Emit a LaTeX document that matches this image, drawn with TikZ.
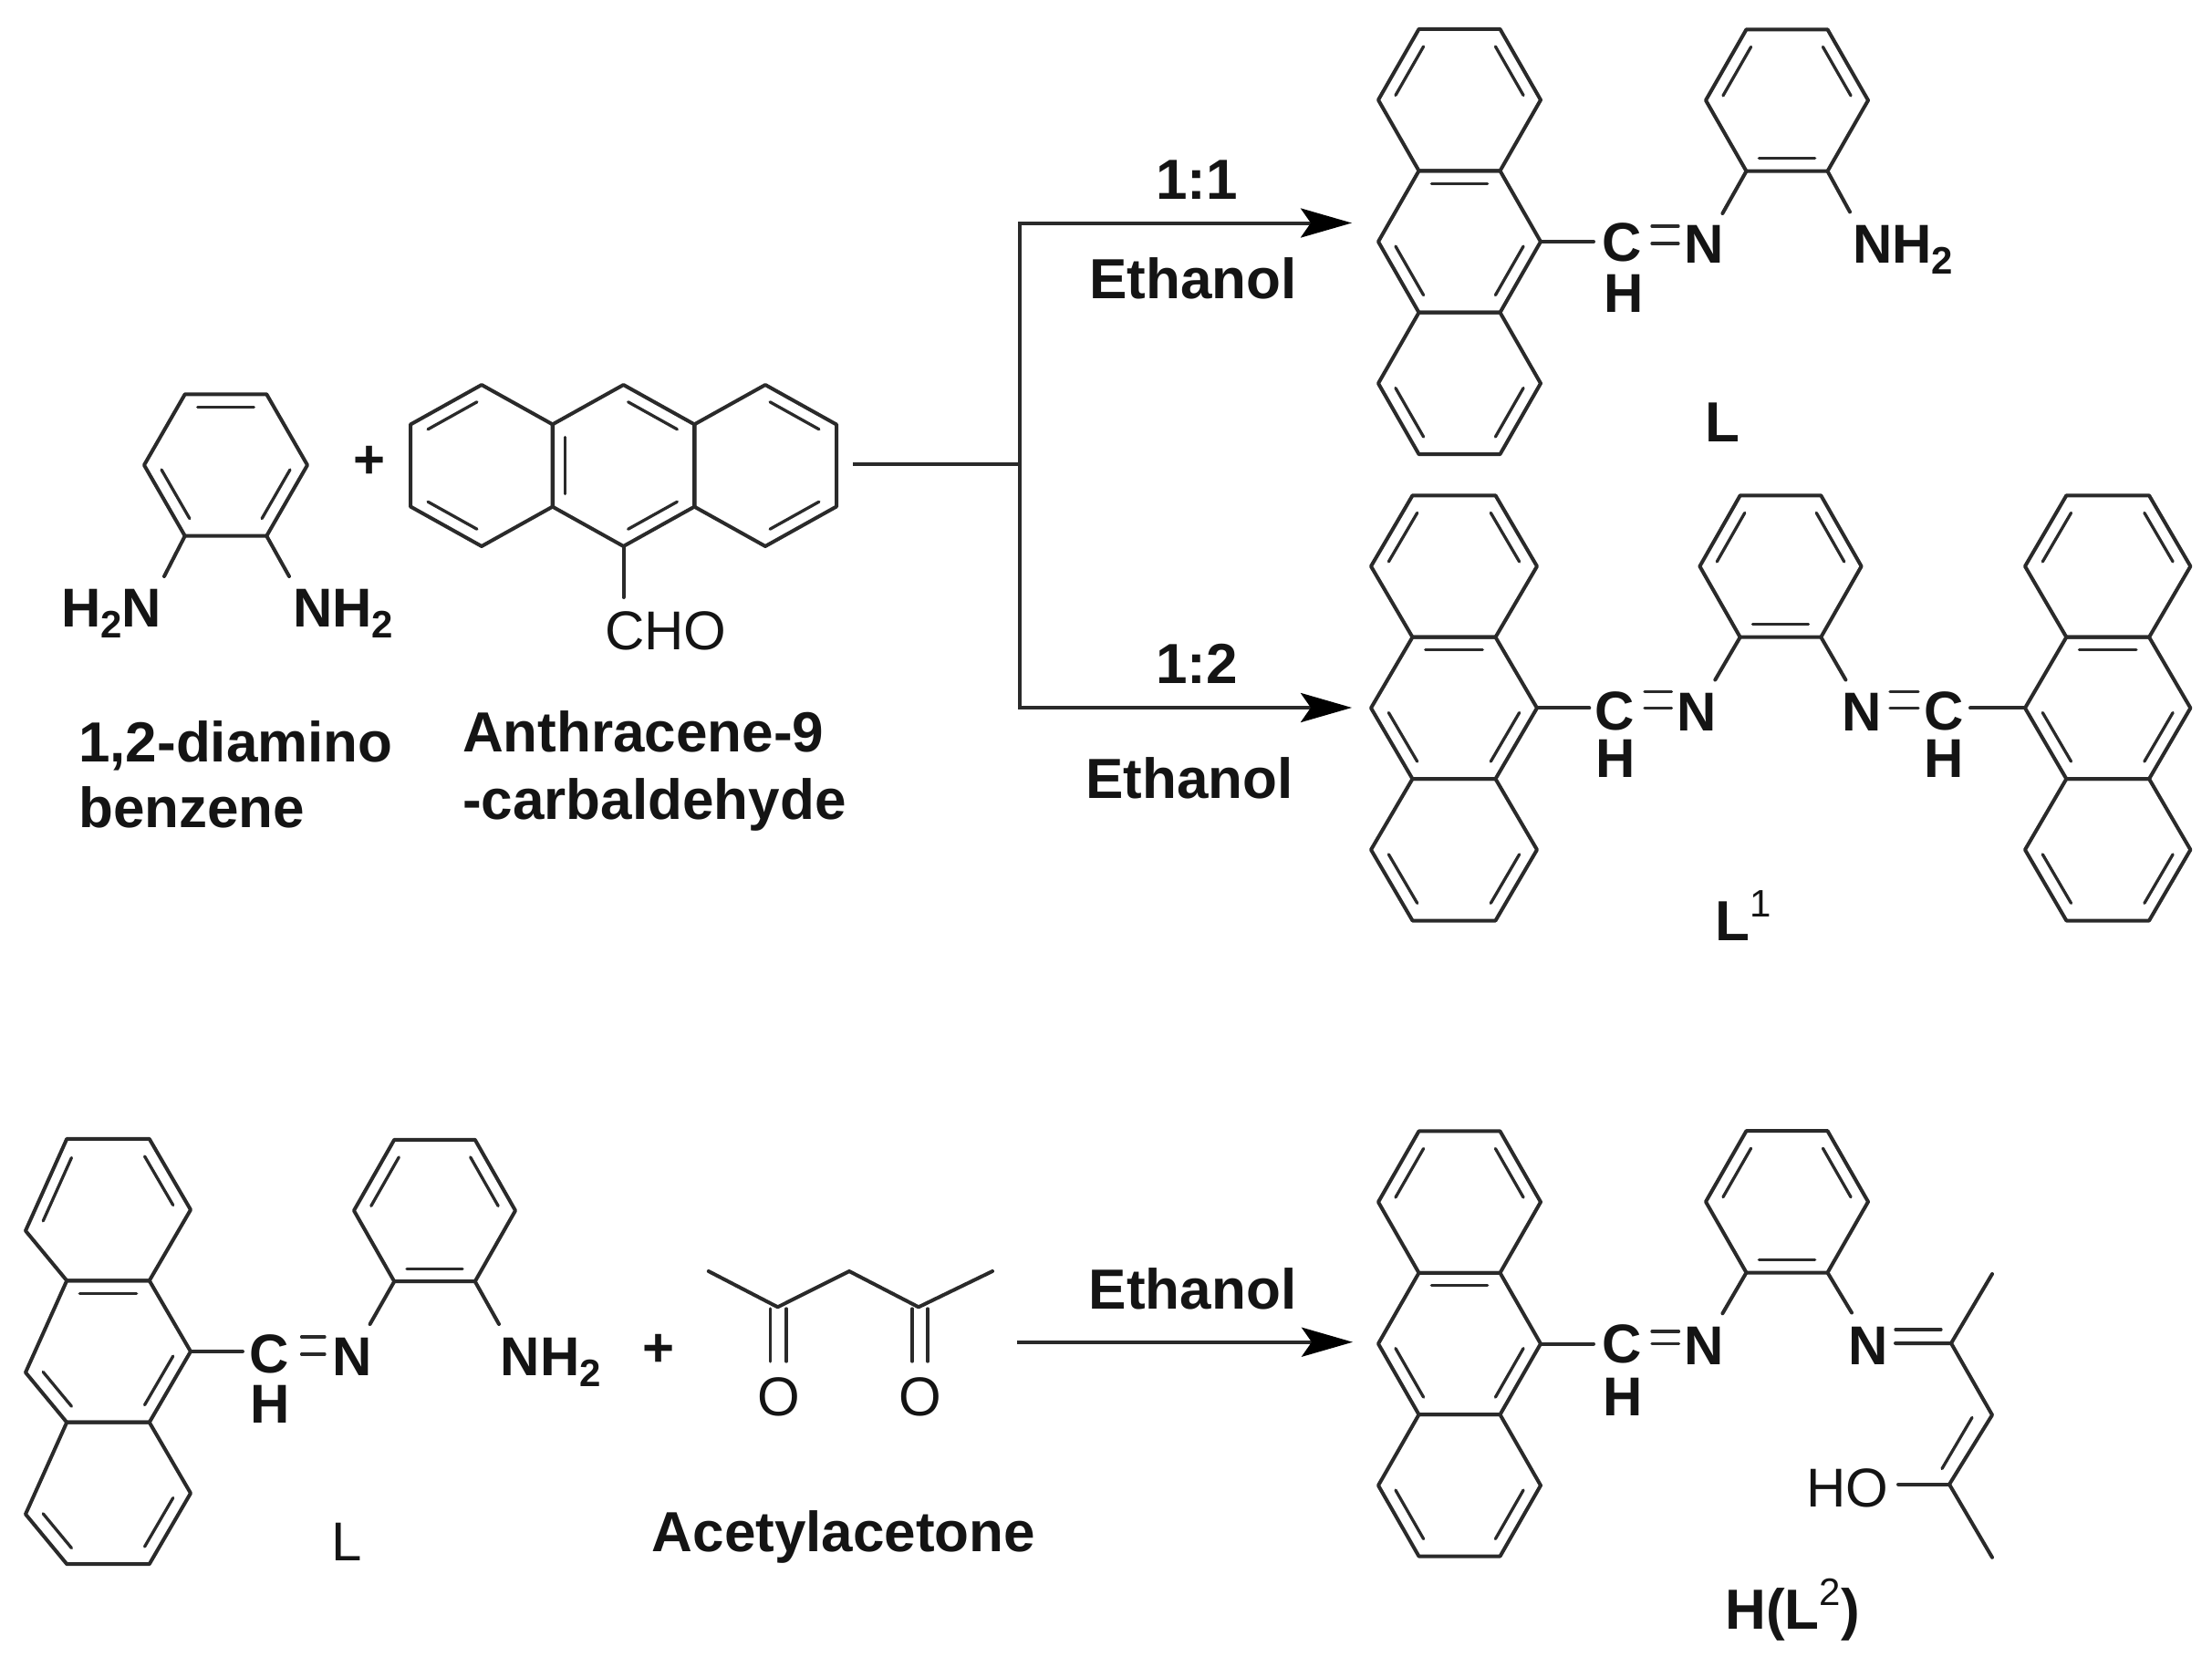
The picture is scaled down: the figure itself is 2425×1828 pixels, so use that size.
\documentclass[tikz,border=0pt]{standalone}
\usepackage{fontspec}
\setmainfont{Liberation Sans}
\usetikzlibrary{calc,arrows.meta}
\definecolor{ink}{HTML}{2A2A2A}
\definecolor{txt}{HTML}{141414}
\tikzset{
  bond/.style={draw=ink,line width=4pt,line join=round,line cap=round},
  innerbond/.style={draw=ink,line width=3.3pt,line cap=round},
  flow/.style={draw=ink,line width=4pt,line join=miter},
  flowarrow/.style={flow,-{Stealth[length=56pt,width=32pt,inset=11pt,color=black,fill=black]}},
  atom/.style={inner sep=0pt,anchor=base,text=txt,font=\fontsize{60}{72}\selectfont\bfseries},
  atomw/.style={atom,anchor=base west},
  plain/.style={inner sep=0pt,anchor=base,text=txt,font=\fontsize{60}{72}\selectfont},
  caption/.style={inner sep=0pt,anchor=base,text=txt,font=\fontsize{62}{72}\selectfont\bfseries},
  captionw/.style={caption,anchor=base west},
}
\newcommand{\subtwo}{\raisebox{-.2em}{\fontsize{42}{42}\selectfont 2}}
\newcommand{\suptxt}[1]{\raisebox{.42em}{\fontsize{42}{42}\selectfont\mdseries #1}}
% flat-topped hexagon: [left vertex dy]{name}{cx}{cy}{R}{inner bonds}
\newcommand{\flatring}[6][0]{%
  \coordinate (#2-c) at (#3,#4);
  \coordinate (#2-1) at ({#3-0.5*#5},{#4-77.7});
  \coordinate (#2-2) at ({#3+0.5*#5},{#4-77.7});
  \coordinate (#2-3) at ({#3+#5},{#4});
  \coordinate (#2-4) at ({#3+0.5*#5},{#4+77.7});
  \coordinate (#2-5) at ({#3-0.5*#5},{#4+77.7});
  \coordinate (#2-6) at ({#3-#5},{#4+#1});
  \draw[bond] (#2-1)--(#2-2)--(#2-3)--(#2-4)--(#2-5)--(#2-6)--cycle;
  \foreach \a/\b in {#6}{
    \draw[innerbond] ($(#2-c)!.82!($(#2-\a)!.08!(#2-\b)$)$) -- ($(#2-c)!.82!($(#2-\b)!.08!(#2-\a)$)$);
  }
}
% pointy-topped hexagon: {name}{cx}{cy}{inner bonds}
\newcommand{\pointring}[4]{%
  \coordinate (#1-c) at (#2,#3);
  \coordinate (#1-1) at ({#2},{#3-88.5});
  \coordinate (#1-2) at ({#2+78},{#3-45});
  \coordinate (#1-3) at ({#2+78},{#3+45});
  \coordinate (#1-4) at ({#2},{#3+88.5});
  \coordinate (#1-5) at ({#2-78},{#3+45});
  \coordinate (#1-6) at ({#2-78},{#3-45});
  \draw[bond] (#1-1)--(#1-2)--(#1-3)--(#1-4)--(#1-5)--(#1-6)--cycle;
  \foreach \a/\b in {#4}{
    \draw[innerbond] ($(#1-c)!.82!($(#1-\a)!.08!(#1-\b)$)$) -- ($(#1-c)!.82!($(#1-\b)!.08!(#1-\a)$)$);
  }
}
% vertical anthracene: [left dy]{name}{cx}{cy of middle ring}{R}
\newcommand{\anthracene}[5][0]{%
  \flatring[#1]{#2t}{#3}{#4-155.4}{#5}{6/1,2/3}
  \flatring[#1]{#2m}{#3}{#4}{#5}{1/2,5/6,3/4}
  \flatring[#1]{#2b}{#3}{#4+155.4}{#5}{5/6,3/4}
}
\begin{document}
\begin{tikzpicture}[x=1pt,y=-1pt]
\useasboundingbox[fill=white] (0,0) rectangle (2425,1828);

%%% reactants, top left
\flatring{da}{247.5}{510}{89.5}{1/2,5/6,3/4}
\coordinate (da-a) at (180,632);
\coordinate (da-b) at (317,632);
\draw[bond] (da-5) -- (da-a);
\draw[bond] (da-4) -- (da-b);
\node[atomw] (h2n) at (67,687) {H\subtwo N};
\node[atomw] (nh2a) at (321,687) {NH\subtwo};
\node[atom] (plus1) at (405,524) {+};
\pointring{ra}{528}{510.5}{6/1,5/4}
\pointring{rb}{683.5}{510.5}{1/2,5/6,3/4}
\pointring{rc}{839}{510.5}{1/2,3/4}
\coordinate (cho-e) at (683.5,655);
\draw[bond] (rb-4) -- (cho-e);
\node[plain] (cho) at (730,712) {CHO};
\node[captionw] (dia1) at (86,835) {1,2-diamino};
\node[captionw] (dia2) at (86,907) {benzene};
\node[captionw] (ant1) at (507,824.6) {Anthracene-9};
\node[captionw] (ant2) at (507,898) {-carbaldehyde};

%%% branching arrows
\coordinate (fork-s) at (935,509);
\coordinate (fork-m) at (1118,509);
\coordinate (fork-t) at (1118,244.5);
\coordinate (fork-b) at (1118,776);
\coordinate (tip-t) at (1482,244.5);
\coordinate (tip-b) at (1482,776);
\draw[flow] (fork-s) -- (fork-m);
\draw[flowarrow] (fork-m) -- (fork-t) -- (tip-t);
\draw[flowarrow] (fork-m) -- (fork-b) -- (tip-b);
\node[caption] (r11) at (1312,218) {1:1};
\node[caption] (eth1) at (1308,327) {Ethanol};
\node[caption] (r12) at (1312,749) {1:2};
\node[caption] (eth2) at (1304,875) {Ethanol};

%%% product L
\anthracene{la}{1600}{265}{89}
\flatring{lr}{1959}{110}{89}{6/1,2/3,4/5}
\coordinate (l-a) at (1888.4,234);
\coordinate (l-b) at (2028,232.4);
\coordinate (l-c) at (1747,265);
\draw[bond] (lr-5) -- (l-a);
\draw[bond] (lr-4) -- (l-b);
\draw[bond] (lam-3) -- (l-c);
\node[atom] (lC) at (1778,286) {C};
\node[atom] (lN) at (1868,288) {N};
\node[atom] (lH) at (1780,342.6) {H};
\coordinate (ld1) at (1811,248); \coordinate (ld2) at (1840,248);
\coordinate (ld3) at (1811,267); \coordinate (ld4) at (1840,267);
\draw[innerbond] (ld1) -- (ld2);
\draw[innerbond] (ld3) -- (ld4);
\node[atomw] (lNH2) at (2031,288) {NH\subtwo};
\node[caption] (lL) at (1888,484) {L};

%%% product L1
\anthracene{ma}{1594}{776.4}{91}
\flatring{mr}{1952}{621}{88.6}{6/1,2/3,4/5}
\anthracene{mc}{2310.7}{776.4}{90.7}
\coordinate (m-a) at (1880.3,745.5);
\coordinate (m-b) at (2023.4,745.5);
\coordinate (m-c) at (1742.3,776.4);
\coordinate (m-d) at (2160,776.4);
\draw[bond] (mr-5) -- (m-a);
\draw[bond] (mr-4) -- (m-b);
\draw[bond] (mam-3) -- (m-c);
\draw[bond] (mcm-6) -- (m-d);
\node[atom] (mC1) at (1770,800.6) {C};
\node[atom] (mN1) at (1860.4,801.7) {N};
\node[atom] (mH1) at (1771.5,852.3) {H};
\node[atom] (mN2) at (2040.8,801.7) {N};
\node[atom] (mC2) at (2131,800.6) {C};
\node[atom] (mH2) at (2131,852.3) {H};
\coordinate (md1) at (1803,758.3); \coordinate (md2) at (1832.5,758.3);
\coordinate (md3) at (1803,776.5); \coordinate (md4) at (1832.5,776.5);
\coordinate (md5) at (2072,758.3); \coordinate (md6) at (2103,758.3);
\coordinate (md7) at (2072,776.5); \coordinate (md8) at (2103,776.5);
\draw[innerbond] (md1) -- (md2);
\draw[innerbond] (md3) -- (md4);
\draw[innerbond] (md5) -- (md6);
\draw[innerbond] (md7) -- (md8);
\node[caption] (mL) at (1911,1031.4) {L\suptxt{1}};

%%% reactant L, bottom left
\anthracene[23]{ba}{118.5}{1482}{90.5}
\flatring{br}{476.5}{1327.5}{88.5}{6/1,2/3,4/5}
\coordinate (b-a) at (405.6,1452);
\coordinate (b-b) at (547,1452);
\coordinate (b-c) at (266,1482);
\draw[bond] (br-5) -- (b-a);
\draw[bond] (br-4) -- (b-b);
\draw[bond] (bam-3) -- (b-c);
\node[atom] (bC) at (295,1505) {C};
\node[atom] (bN) at (386,1508.6) {N};
\node[atom] (bH) at (296,1560) {H};
\coordinate (bd1) at (330.6,1466); \coordinate (bd2) at (356,1466);
\coordinate (bd3) at (330.6,1485); \coordinate (bd4) at (356,1485);
\draw[innerbond] (bd1) -- (bd2);
\draw[innerbond] (bd3) -- (bd4);
\node[atomw] (bNH2) at (548.5,1508.6) {NH\subtwo};
\node[plain] (bL) at (380,1711) {L};
\node[atom] (plus2) at (722,1498) {+};

%%% acetylacetone
\coordinate (ac1) at (776.8,1394);
\coordinate (ac2) at (852.6,1433.3);
\coordinate (ac3) at (931,1394);
\coordinate (ac4) at (1007,1433.3);
\coordinate (ac5) at (1088,1394);
\draw[bond] (ac1) -- (ac2) -- (ac3) -- (ac4) -- (ac5);
\coordinate (ao1) at (844.7,1435); \coordinate (ao2) at (844.7,1493);
\coordinate (ao3) at (862,1435);   \coordinate (ao4) at (862,1493);
\coordinate (ao5) at (1000,1435);  \coordinate (ao6) at (1000,1493);
\coordinate (ao7) at (1017,1435);  \coordinate (ao8) at (1017,1493);
\draw[innerbond] (ao1) -- (ao2);
\draw[innerbond] (ao3) -- (ao4);
\draw[innerbond] (ao5) -- (ao6);
\draw[innerbond] (ao7) -- (ao8);
\node[plain] (acO1) at (853.6,1552) {O};
\node[plain] (acO2) at (1008.5,1552) {O};
\node[caption] (acN) at (925,1701.7) {Acetylacetone};

%%% bottom arrow
\coordinate (ar-s) at (1115,1471.7);
\coordinate (ar-e) at (1483,1471.7);
\draw[flowarrow] (ar-s) -- (ar-e);
\node[caption] (eth3) at (1307.6,1435) {Ethanol};

%%% product H(L2)
\anthracene{ha}{1600}{1473.5}{89}
\flatring{hr}{1959}{1317.8}{89}{6/1,2/3,4/5}
\coordinate (h-a) at (1888.4,1440.3);
\coordinate (h-b) at (2030,1439.5);
\coordinate (h-c) at (1747,1473.5);
\draw[bond] (hr-5) -- (h-a);
\draw[bond] (hr-4) -- (h-b);
\draw[bond] (ham-3) -- (h-c);
\node[atom] (hC) at (1778,1494.4) {C};
\node[atom] (hN) at (1868,1496) {N};
\node[atom] (hH) at (1779.6,1552.4) {H};
\coordinate (hd1) at (1811,1460); \coordinate (hd2) at (1840.5,1460);
\coordinate (hd3) at (1811,1473.5); \coordinate (hd4) at (1840.5,1473.5);
\draw[innerbond] (hd1) -- (hd2);
\draw[innerbond] (hd3) -- (hd4);
\node[atom] (hN2) at (2048,1496) {N};
\coordinate (hs1) at (2139,1473);
\coordinate (hs2) at (2184,1397);
\coordinate (hs3) at (2184,1551.6);
\coordinate (hs4) at (2137,1627.7);
\coordinate (hs5) at (2184,1707.8);
\coordinate (hs6) at (2081,1627.7);
\coordinate (hi1) at (2078,1458); \coordinate (hi2) at (2128,1458);
\coordinate (hi3) at (2078,1473); 
\coordinate (hi4) at (2162,1554.4); \coordinate (hi5) at (2129,1610.5);
\draw[innerbond] (hi1) -- (hi2);
\draw[bond] (hi3) -- (hs1) -- (hs2);
\draw[bond] (hs1) -- (hs3) -- (hs4) -- (hs5);
\draw[innerbond] (hi4) -- (hi5);
\draw[bond] (hs4) -- (hs6);
\node[plain] (hHO) at (2025,1652.5) {HO};
\node[caption] (hL) at (1965,1786.7) {H(L\suptxt{2})};
\end{tikzpicture}
\end{document}
